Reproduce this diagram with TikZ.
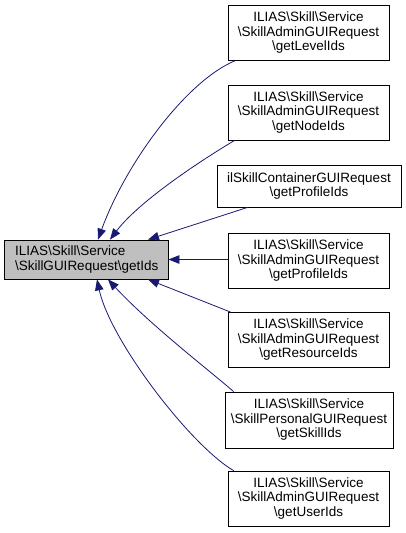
\documentclass[tikz,border=0pt]{standalone}
\usepackage{fontspec}
\setmainfont{Liberation Sans}
\usetikzlibrary{arrows.meta}
\definecolor{edgeblue}{RGB}{25,25,112}
\definecolor{boxgray}{RGB}{191,191,191}
\newcommand{\bsl}{\textbackslash}
\begin{document}
\begin{tikzpicture}
  [x=1pt,y=-1pt,
   every node/.style={draw=black,line width=0.8pt,inner sep=0pt,
     font=\fontsize{13.5}{14.5}\selectfont,align=center},
   callbox/.style={minimum width=161pt,minimum height=55pt},
   callarrow/.style={draw=edgeblue,line width=0.8pt,
     {Triangle[length=11pt,width=8.5pt,fill=edgeblue]}-}]
  \useasboundingbox (0,0) rectangle (405,533);
  \node[fill=boxgray,minimum height=39pt,align=left,text width=142pt,inner xsep=11pt] (m) at (86,259.5)
    {ILIAS\bsl Skill\bsl Service\\\bsl SkillGUIRequest\bsl getIds};
  \node[callbox] (n1) at (308.5,33) {ILIAS\bsl Skill\bsl Service\\\bsl SkillAdminGUIRequest\\\bsl getLevelIds};
  \node[callbox] (n2) at (308.5,112.5) {ILIAS\bsl Skill\bsl Service\\\bsl SkillAdminGUIRequest\\\bsl getNodeIds};
  \node[minimum width=184pt,minimum height=42pt] (n3) at (309,186) {ilSkillContainerGUIRequest\\\bsl getProfileIds};
  \node[callbox] (n4) at (308.5,261) {ILIAS\bsl Skill\bsl Service\\\bsl SkillAdminGUIRequest\\\bsl getProfileIds};
  \node[callbox] (n5) at (308.5,340) {ILIAS\bsl Skill\bsl Service\\\bsl SkillAdminGUIRequest\\\bsl getResourceIds};
  \node[minimum width=168pt,minimum height=56pt] (n6) at (309,420) {ILIAS\bsl Skill\bsl Service\\\bsl SkillPersonalGUIRequest\\\bsl getSkillIds};
  \node[callbox] (n7) at (308.5,498.5) {ILIAS\bsl Skill\bsl Service\\\bsl SkillAdminGUIRequest\\\bsl getUserIds};

  \draw[callarrow] ([xshift=12pt]m.north) .. controls (125,165) and (185,82) .. ([xshift=7pt]n1.south west);
  \draw[callarrow] ([xshift=24pt]m.north) .. controls (140,200) and (205,158) .. ([xshift=7pt]n2.south west);
  \draw[callarrow] ([xshift=62pt]m.north) -- ([xshift=31pt]n3.south west);
  \draw[callarrow] (m.east) -- (m.east -| n4.west);
  \draw[callarrow] ([xshift=62pt]m.south) -- ([xshift=3pt]n5.north west);
  \draw[callarrow] ([xshift=22pt]m.south) .. controls (150,325) and (215,375) .. ([xshift=9pt]n6.north west);
  \draw[callarrow] ([xshift=11pt]m.south) .. controls (110,340) and (190,445) .. ([xshift=6pt]n7.north west);
\end{tikzpicture}
\end{document}
